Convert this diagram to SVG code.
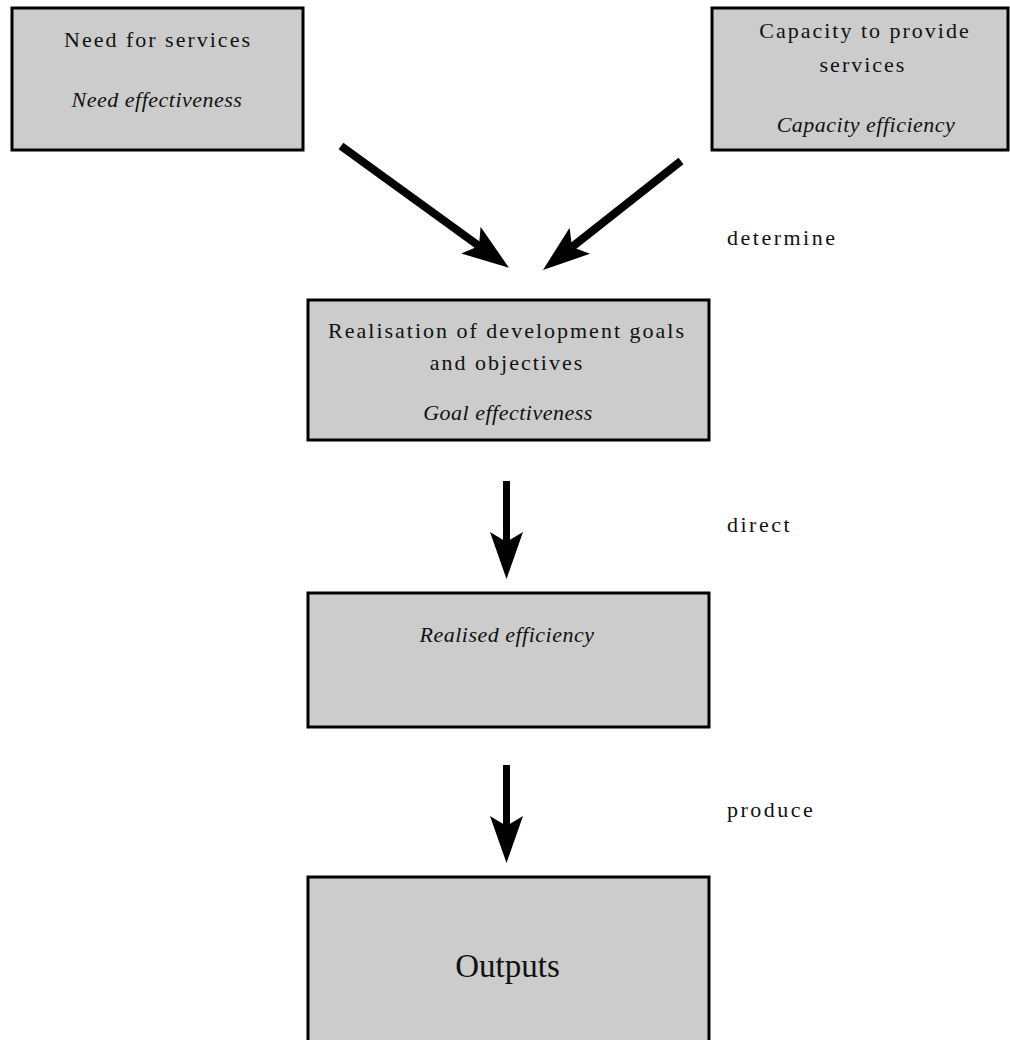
<svg xmlns="http://www.w3.org/2000/svg" width="1010" height="1040" viewBox="0 0 1010 1040">
<defs>
<style>
.box{fill:#cccccc;stroke:#000;stroke-width:3}
.t{font-family:"Liberation Serif",serif;font-size:22px;letter-spacing:2px;fill:#111;text-anchor:middle}
.i{font-family:"Liberation Serif",serif;font-size:22px;font-style:italic;letter-spacing:0.5px;fill:#111;text-anchor:middle}
.lbl{font-family:"Liberation Serif",serif;font-size:22px;letter-spacing:2.5px;fill:#111}
.big{font-family:"Liberation Serif",serif;font-size:33px;fill:#111;text-anchor:middle}
.arr{stroke:#000;fill:none;marker-end:url(#head)}
</style>
<marker id="head" markerUnits="userSpaceOnUse" viewBox="-48 -17 50 34" refX="-37" refY="0" markerWidth="50" markerHeight="34" orient="auto">
<path d="M0,0 L-47,-16.5 L-37,0 L-47,16.5 Z" fill="#000"/>
</marker>
</defs>
<rect width="1010" height="1040" fill="#fff"/>
<g id="need">
<rect class="box" x="12" y="8" width="291" height="142"/>
<text class="t" x="158" y="47">Need for services</text>
<text class="i" x="157" y="107">Need effectiveness</text>
</g>
<g id="capacity">
<rect class="box" x="712" y="8" width="296" height="142"/>
<text class="t" x="865" y="38">Capacity to provide</text>
<text class="t" x="863" y="72">services</text>
<text class="i" x="866" y="132">Capacity efficiency</text>
</g>
<g id="realisation">
<rect class="box" x="308" y="300" width="401" height="140"/>
<text class="t" x="507" y="338">Realisation of development goals</text>
<text class="t" x="507" y="370">and objectives</text>
<text class="i" x="508" y="420">Goal effectiveness</text>
</g>
<g id="realised">
<rect class="box" x="308" y="593" width="401" height="134"/>
<text class="i" x="507" y="642">Realised efficiency</text>
</g>
<g id="outputs">
<rect class="box" x="308" y="877" width="401" height="170"/>
<text class="big" x="507.5" y="977">Outputs</text>
</g>
<g id="connectors">
<line class="arr" x1="341" y1="146" x2="479" y2="246" stroke-width="8"/>
<line class="arr" x1="681" y1="161" x2="572" y2="247" stroke-width="8"/>
<line class="arr" x1="506.5" y1="481" x2="506.5" y2="542" stroke-width="7"/>
<line class="arr" x1="506.5" y1="765" x2="506.5" y2="826" stroke-width="7"/>
<text class="lbl" x="727" y="245">determine</text>
<text class="lbl" x="727" y="532">direct</text>
<text class="lbl" x="727" y="817">produce</text>
</g>
</svg>
